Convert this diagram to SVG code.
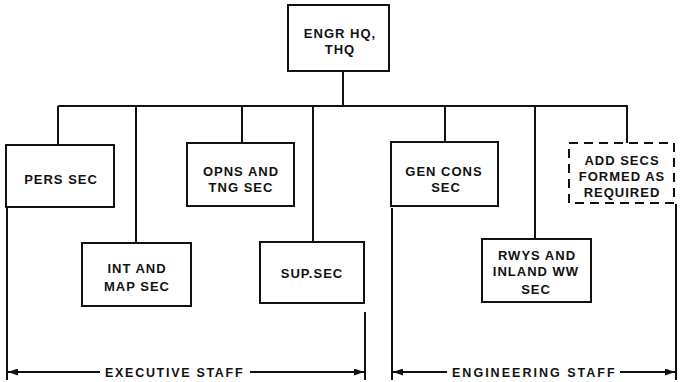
<svg xmlns="http://www.w3.org/2000/svg" width="681" height="382" viewBox="0 0 681 382">
<defs>
<marker id="ah" viewBox="0 0 10 10" refX="10" refY="5" markerWidth="10" markerHeight="7" markerUnits="userSpaceOnUse" orient="auto-start-reverse" preserveAspectRatio="none">
<path d="M0,0 L10,5 L0,10 Z" fill="#111"/>
</marker>
<style>
.box{fill:#fff;stroke:#111;stroke-width:2}
.dash{fill:#fff;stroke:#111;stroke-width:2;stroke-dasharray:9,6}
.ln{fill:none;stroke:#111;stroke-width:2}
.t{font-family:"Liberation Sans",Arial,sans-serif;font-weight:bold;font-size:13px;letter-spacing:1px;fill:#111;text-anchor:middle}
.s{font-family:"Liberation Sans",Arial,sans-serif;font-weight:bold;font-size:12.5px;letter-spacing:2.4px;fill:#111}
</style>
</defs>
<rect width="681" height="382" fill="#fff"/>
<g id="connectors">
<path class="ln" d="M343,71 V106 M58,106 H628 M58,106 V145 M136,106 V243 M242,106 V143 M313,106 V242 M445,106 V142 M535,106 V239 M627,106 V143"/>
<path class="ln" d="M7,208 V380 M365,312 V380 M392,208 V380 M676,204 V380"/>
<path class="ln" d="M8,372 H100" marker-start="url(#ah)"/>
<path class="ln" d="M250,372 H364" marker-end="url(#ah)"/>
<path class="ln" d="M393,372 H447" marker-start="url(#ah)"/>
<path class="ln" d="M620,372 H675" marker-end="url(#ah)"/>
</g>
<g id="engr-hq"><rect class="box" x="288" y="5" width="101" height="66"/><text class="t" x="340" y="38">ENGR HQ,</text><text class="t" x="340" y="54">THQ</text></g>
<g id="pers-sec"><rect class="box" x="6" y="145" width="108" height="62"/><text class="t" x="61" y="184">PERS SEC</text></g>
<g id="opns-sec"><rect class="box" x="187" y="143" width="107" height="63"/><text class="t" x="241" y="176">OPNS AND</text><text class="t" x="241" y="192">TNG SEC</text></g>
<g id="gen-cons-sec"><rect class="box" x="391" y="142" width="107" height="64"/><text class="t" x="444" y="176">GEN CONS</text><text class="t" x="446" y="192">SEC</text></g>
<g id="add-secs"><rect class="dash" x="569" y="143" width="105" height="60"/><text class="t" x="622" y="165">ADD SECS</text><text class="t" x="622" y="181">FORMED AS</text><text class="t" x="622" y="197">REQUIRED</text></g>
<g id="int-map-sec"><rect class="box" x="82" y="243" width="109" height="63"/><text class="t" x="137" y="273">INT  AND</text><text class="t" x="137" y="291">MAP SEC</text></g>
<g id="sup-sec"><rect class="box" x="260" y="242" width="104" height="61"/><text class="t" x="312" y="278">SUP.SEC</text></g>
<g id="rwys-sec"><rect class="box" x="482" y="239" width="109" height="63"/><text class="t" x="537" y="260">RWYS AND</text><text class="t" x="536" y="276">INLAND WW</text><text class="t" x="536" y="294">SEC</text></g>
<g id="labels"><text class="s" x="105" y="377" textLength="140" lengthAdjust="spacing">EXECUTIVE  STAFF</text><text class="s" x="452" y="377" textLength="165" lengthAdjust="spacing">ENGINEERING  STAFF</text></g>
</svg>
